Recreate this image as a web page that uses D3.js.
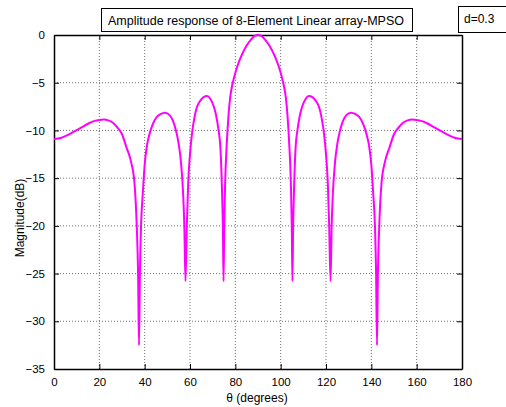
<!DOCTYPE html>
<html>
<head>
<meta charset="utf-8">
<script src="https://cdn.jsdelivr.net/npm/d3@7"></script>
<style>
  body { margin: 0; background: #fff; }
  svg { font-family: "Liberation Sans", Arial, sans-serif; }
</style>
</head>
<body>
<div id="chart"></div>
<script>
var width = 506, height = 407;

// angles (degrees) and magnitude (dB)
var theta = [0, 3, 6, 9, 12, 15, 18, 20, 22, 24, 26, 28, 30, 32, 34, 35.5, 36.5, 37.1, 37.5, 37.9,
  38.4, 39.2, 40, 41, 42, 43.5, 45, 47, 49, 51, 52.5, 54, 55, 56, 57, 57.5, 58, 58.6, 59.2, 60,
  61, 62, 63, 64.5, 66, 67.5, 69, 70.5, 71.5, 72.5, 73.5, 74.2, 74.5, 74.8, 75.1, 75.5, 76.2, 77, 77.7, 78.5, 79.5,
  81, 83, 85, 87, 88.5, 90,
  91.5, 93, 95, 97, 99, 100.5, 101.5, 102.3, 103, 103.8, 104.5, 104.9, 105.2, 105.5, 105.8, 106.5, 107.5, 108.5, 109.5,
  111, 112.5, 114, 115.5, 117, 118, 119, 120, 120.8, 121.4, 122, 122.5, 123, 124, 125, 126, 127.5, 129,
  131, 133, 135, 136.5, 138, 139, 140, 140.8, 141.6, 142.1, 142.5, 142.9, 143.5, 144.5, 146, 148, 150,
  152, 154, 156, 158, 160, 162, 165, 168, 171, 174, 177, 180];

var magDb = [-10.9, -10.8, -10.5, -10.1, -9.7, -9.3, -9.0, -8.9, -8.85, -8.95, -9.2, -9.7, -10.4, -11.8, -13.3, -15.5, -20, -25, -32.5, -25,
  -20, -16.5, -13.6, -11.6, -10.5, -9.4, -8.7, -8.3, -8.15, -8.4, -9.0, -10.2, -11.4, -13.3, -16.8, -20, -25.8, -20, -15.5, -12.5,
  -10.1, -8.6, -7.6, -6.9, -6.5, -6.4, -6.7, -7.5, -8.4, -9.8, -12.2, -17, -20, -25.8, -20, -15.5, -11.5, -8.4, -6.6, -5.4, -4.4,
  -3.2, -2.0, -1.1, -0.45, -0.1, 0,
  -0.1, -0.45, -1.1, -2.0, -3.2, -4.4, -5.4, -6.6, -8.4, -11.5, -15.5, -20, -25.8, -20, -17, -12.2, -9.8, -8.4, -7.5,
  -6.7, -6.4, -6.5, -6.9, -7.6, -8.6, -10.1, -12.5, -15.5, -20, -25.8, -20, -16.8, -13.3, -11.4, -10.2, -9.0, -8.4,
  -8.15, -8.3, -8.7, -9.4, -10.5, -11.6, -13.6, -16.5, -20, -25, -32.5, -25, -20, -15.5, -13.3, -11.8, -10.4,
  -9.7, -9.2, -8.95, -8.85, -8.9, -9.0, -9.3, -9.7, -10.1, -10.5, -10.8, -10.9];

var xTicks = [0, 20, 40, 60, 80, 100, 120, 140, 160, 180];
var yTicks = [0, -5, -10, -15, -20, -25, -30, -35];

var titleText = "Amplitude response of 8-Element Linear array-MPSO";
var legendText = "d=0.3";

var plot = { left: 54, right: 462, top: 35, bottom: 369 };

var svg = d3.select("#chart").append("svg")
    .attr("width", width)
    .attr("height", height);

var x = d3.scaleLinear().domain([0, 180]).range([plot.left, plot.right]);
var y = d3.scaleLinear().domain([-35, 0]).range([plot.bottom, plot.top]);

// grid
var grid = svg.append("g").attr("class", "grid");
grid.selectAll(".gx")
    .data(xTicks.slice(1, -1))
  .enter().append("line")
    .attr("x1", function(d) { return x(d); })
    .attr("x2", function(d) { return x(d); })
    .attr("y1", plot.top)
    .attr("y2", plot.bottom)
    .attr("stroke", "#707070")
    .attr("stroke-dasharray", "1,2");
grid.selectAll(".gy")
    .data(yTicks.slice(1, -1))
  .enter().append("line")
    .attr("y1", function(d) { return y(d); })
    .attr("y2", function(d) { return y(d); })
    .attr("x1", plot.left)
    .attr("x2", plot.right)
    .attr("stroke", "#707070")
    .attr("stroke-dasharray", "1,2");

// axes (ticks point inward, MATLAB style)
var bottomAxis = d3.axisBottom(x).tickValues(xTicks).tickSizeInner(-5).tickSizeOuter(0).tickPadding(9);
var topAxis = d3.axisTop(x).tickValues(xTicks).tickSizeInner(-5).tickSizeOuter(0).tickFormat("");
var leftAxis = d3.axisLeft(y).tickValues(yTicks).tickSizeInner(-5).tickSizeOuter(0).tickPadding(9);
var rightAxis = d3.axisRight(y).tickValues(yTicks).tickSizeInner(-5).tickSizeOuter(0).tickFormat("");

function styleAxis(g) {
  g.selectAll("path").attr("stroke", "#000").attr("stroke-width", 1.5);
  g.selectAll("line").attr("stroke", "#000");
  g.selectAll("text").attr("fill", "#000").style("font-size", "11.5px");
}

svg.append("g").attr("transform", "translate(0," + plot.bottom + ")").call(bottomAxis).call(styleAxis);
svg.append("g").attr("transform", "translate(0," + plot.top + ")").call(topAxis).call(styleAxis);
svg.append("g").attr("transform", "translate(" + plot.left + ",0)").call(leftAxis).call(styleAxis);
svg.append("g").attr("transform", "translate(" + plot.right + ",0)").call(rightAxis).call(styleAxis);

// curve
var line = d3.line()
    .x(function(d) { return x(d[0]); })
    .y(function(d) { return y(d[1]); })
    .curve(d3.curveMonotoneX);

svg.append("path")
    .datum(d3.zip(theta, magDb))
    .attr("d", line)
    .attr("fill", "none")
    .attr("stroke", "#ff00ff")
    .attr("stroke-width", 2)
    .attr("stroke-linejoin", "round");

// title box
svg.append("rect")
    .attr("x", 101.5).attr("y", 8.5)
    .attr("width", 311).attr("height", 23)
    .attr("fill", "#fff").attr("stroke", "#000");
svg.append("text")
    .attr("x", 108).attr("y", 24.5)
    .style("font-size", "12.5px")
    .text(titleText);

// legend box
svg.append("rect")
    .attr("x", 458.5).attr("y", 6.5)
    .attr("width", 60).attr("height", 26)
    .attr("fill", "#fff").attr("stroke", "#000");
svg.append("text")
    .attr("x", 464).attr("y", 23)
    .style("font-size", "12px")
    .text(legendText);

// axis labels
svg.append("text")
    .attr("x", 257).attr("y", 402)
    .attr("text-anchor", "middle")
    .style("font-size", "12px")
    .text("θ (degrees)");

svg.append("text")
    .attr("transform", "translate(24,218) rotate(-90)")
    .attr("text-anchor", "middle")
    .style("font-size", "12px")
    .text("Magnitude(dB)");
</script>
</body>
</html>
